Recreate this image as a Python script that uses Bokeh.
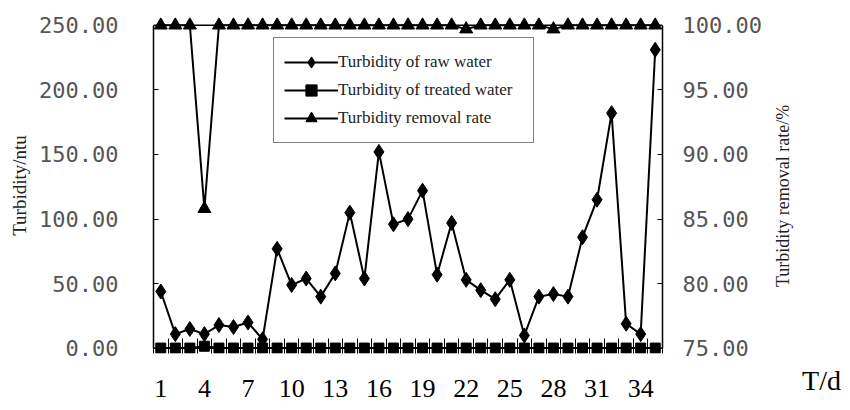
import math
from bokeh.plotting import figure
from bokeh.models import (Range1d, LinearAxis, FixedTicker, PrintfTickFormatter,
                          Legend, LegendItem, Span, Label, AllLabels,
                          CustomJSTickFormatter)
from bokeh.embed import file_html
from bokeh.resources import INLINE

# ---------------- data ----------------
days = [1, 2, 3, 4, 5, 6, 7, 8, 9, 10, 11, 12, 13, 14, 15, 16, 17, 18,
        19, 20, 21, 22, 23, 24, 25, 26, 27, 28, 29, 30, 31, 32, 33, 34, 35]
raw_water = [44, 11, 15, 11, 18, 16.5, 20, 7, 77, 49, 54, 40, 58, 105, 54, 152,
             96, 100, 122, 57, 97, 53, 45, 38, 53, 10, 40, 42, 40, 86, 115, 182,
             19, 11, 231]
treated_water = [0.2, 0.2, 0.2, 1.6, 0.2, 0.2, 0.2, 0.2, 0.2, 0.2, 0.2, 0.2,
                 0.2, 0.2, 0.2, 0.2, 0.2, 0.2, 0.2, 0.2, 0.2, 0.2, 0.2, 0.2,
                 0.2, 0.2, 0.2, 0.2, 0.2, 0.2, 0.2, 0.2, 0.2, 0.2, 0.2]
removal_rate = [100, 100, 100, 85.8, 100, 100, 100, 100, 100, 100, 100, 100,
                100, 100, 100, 100, 100, 100, 100, 100, 100, 99.7, 100, 100,
                100, 100, 100, 99.7, 100, 100, 100, 100, 100, 100, 100]
x_tick_days = [1, 4, 7, 10, 13, 16, 19, 22, 25, 28, 31, 34]
left_ticks = [0, 50, 100, 150, 200, 250]
right_ticks = [75, 80, 85, 90, 95, 100]
series_names = ["Turbidity of raw water", "Turbidity of treated water",
                "Turbidity removal rate"]
left_title = "Turbidity/ntu"
right_title = "Turbidity removal rate/%"
x_title = "T/d"

# ---------------- figure ----------------
p = figure(width=850, height=410, output_backend="svg", toolbar_location=None,
           x_range=Range1d(0.5, 35.5), y_range=Range1d(-4, 256),
           min_border_left=153, min_border_right=188,
           min_border_top=17, min_border_bottom=57)
p.outline_line_color = None
p.grid.visible = False
p.background_fill_color = "white"
p.border_fill_color = "white"
p.extra_y_ranges = {"rate": Range1d(74.6, 100.6)}

tick_font = "DejaVu Sans Mono"
title_font = "Liberation Serif"

# left axis
ya = p.yaxis[0]
ya.ticker = FixedTicker(ticks=left_ticks)
ya.formatter = PrintfTickFormatter(format="%.2f")
ya.bounds = (left_ticks[0], left_ticks[-1])
ya.axis_line_color = "black"
ya.axis_line_width = 1.5
ya.major_tick_in = 5
ya.major_tick_out = 0
ya.minor_tick_line_color = None
ya.major_label_standoff = 35
ya.major_label_text_font = tick_font
ya.major_label_text_font_size = "22px"
ya.major_label_text_color = "#555555"
ya.axis_label = left_title
ya.axis_label_text_font = title_font
ya.axis_label_text_font_style = "normal"
ya.axis_label_text_font_size = "19px"
ya.axis_label_text_color = "#222222"
ya.axis_label_standoff = 6

# right axis
ra = LinearAxis(y_range_name="rate", ticker=FixedTicker(ticks=right_ticks),
                formatter=PrintfTickFormatter(format="%.2f"))
ra.bounds = (right_ticks[0], right_ticks[-1])
ra.axis_line_color = "black"
ra.axis_line_width = 1.5
ra.major_tick_in = 5
ra.major_tick_out = 0
ra.minor_tick_line_color = None
ra.major_label_standoff = 20
ra.major_label_text_font = tick_font
ra.major_label_text_font_size = "22px"
ra.major_label_text_color = "#555555"
p.add_layout(ra, "right")

# bottom: first axis carries only the category-boundary ticks
boundaries = [d - 0.5 for d in days] + [days[-1] + 0.5]
xt = p.xaxis[0]
xt.ticker = FixedTicker(ticks=boundaries)
xt.formatter = CustomJSTickFormatter(code="return ''")
xt.axis_line_color = None
xt.major_tick_line_color = "black"
xt.major_tick_in = 15
xt.major_tick_out = 0
xt.minor_tick_line_color = None
xt.major_label_standoff = 0
xt.major_label_text_font_size = "0px"

# second bottom axis carries the day labels
xa = LinearAxis(ticker=FixedTicker(ticks=x_tick_days),
                formatter=CustomJSTickFormatter(code="return String(Math.round(tick))"))
xa.major_label_policy = AllLabels()
xa.axis_line_color = None
xa.major_tick_line_color = None
xa.minor_tick_line_color = None
xa.major_tick_in = 0
xa.major_tick_out = 0
xa.major_label_standoff = 26
xa.major_label_text_font = title_font
xa.major_label_text_font_size = "26px"
xa.major_label_text_color = "black"
p.add_layout(xa, "below")

# frame top / bottom lines
p.add_layout(Span(location=left_ticks[0], dimension="width", line_color="black",
                  line_width=1.5, level="underlay"))
p.add_layout(Span(location=left_ticks[-1], dimension="width", line_color="black",
                  line_width=1.5, level="underlay"))

# ---------------- series ----------------
l1 = p.line(days, raw_water, line_color="black", line_width=2)
m1 = p.scatter(days, raw_water, marker="diamond", size=15, color="black")
l2 = p.line(days, treated_water, line_color="black", line_width=2)
m2 = p.scatter(days, treated_water, marker="square", size=10, color="black")
l3 = p.line(days, removal_rate, line_color="black", line_width=2, y_range_name="rate")
m3 = p.scatter(days, removal_rate, marker="triangle", size=13, color="black",
               y_range_name="rate")

legend = Legend(items=[LegendItem(label=series_names[0], renderers=[l1, m1]),
                       LegendItem(label=series_names[1], renderers=[l2, m2]),
                       LegendItem(label=series_names[2], renderers=[l3, m3])],
                location=(120, 210))
legend.padding = 10
legend.spacing = 0
legend.margin = 0
legend.glyph_width = 54
legend.glyph_height = 28
legend.label_height = 28
legend.label_width = 185
legend.label_standoff = 0
legend.label_text_font = title_font
legend.label_text_font_size = "17px"
legend.label_text_color = "#222222"
legend.border_line_color = "black"
legend.border_line_width = 1.5
legend.background_fill_color = "white"
legend.background_fill_alpha = 1
p.add_layout(legend, "center")

# right-hand axis title (reads bottom to top) and the x title at the lower right
p.add_layout(Label(x=43.8, y=118, text=right_title, text_font=title_font,
                   text_font_size="18px", text_align="center",
                   text_baseline="middle", angle=math.pi / 2,
                   text_color="#222222"), "right")
p.add_layout(Label(x=45.1, y=-24.9, text=x_title, text_font=title_font,
                   text_font_size="28px", text_baseline="middle",
                   text_color="black"), "right")

open("out.html", "w").write(file_html(p, INLINE))
